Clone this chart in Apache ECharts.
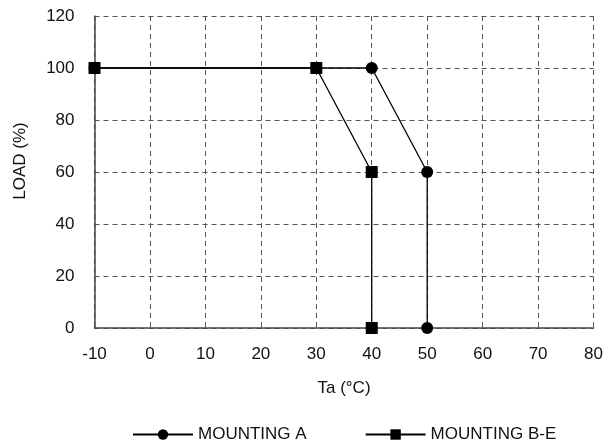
<!DOCTYPE html>
<html>
<head>
<meta charset="utf-8">
<script src="https://cdn.jsdelivr.net/npm/echarts@6/dist/echarts.min.js"></script>
<style>html,body{margin:0;padding:0;background:#fff}#c{width:606px;height:446px}</style>
</head>
<body>
<div id="c"></div>
<script>
const seriesNames = ['MOUNTING A', 'MOUNTING B-E'];
const mountingA = [[-10, 100], [40, 100], [50, 60], [50, 0]];
const mountingBE = [[-10, 100], [30, 100], [40, 60], [40, 0]];
const xTicks = [-10, 0, 10, 20, 30, 40, 50, 60, 70, 80];
const yTicks = [0, 20, 40, 60, 80, 100, 120];

const font = '"Liberation Sans", Arial, Helvetica, sans-serif';
const fs = 17;
const chart = echarts.init(document.getElementById('c'), null, {renderer: 'canvas'});
chart.setOption({
  animation: false,
  backgroundColor: '#fff',
  textStyle: {fontFamily: font},
  grid: {left: 94.5, right: 11, top: 16, bottom: 118, containLabel: false},
  legend: {
    top: 421, left: 127,
    itemWidth: 60, itemHeight: 13, itemGap: 58,
    textStyle: {fontSize: fs, color: '#111', fontFamily: font},
    data: seriesNames
  },
  xAxis: {
    type: 'value', min: xTicks[0], max: xTicks[xTicks.length - 1], interval: 10,
    name: 'Ta (°C)', nameLocation: 'middle', nameGap: 52,
    nameTextStyle: {fontSize: fs, color: '#111', fontFamily: font},
    axisLine: {show: true, onZero: false, lineStyle: {color: '#444', width: 1.5}},
    axisTick: {show: false},
    axisLabel: {fontSize: fs, color: '#111', margin: 18, fontFamily: font},
    splitLine: {show: true, lineStyle: {color: '#555', type: [5, 4], width: 1}}
  },
  yAxis: {
    type: 'value', min: yTicks[0], max: yTicks[yTicks.length - 1], interval: 20,
    name: 'LOAD (%)', nameLocation: 'middle', nameGap: 66, nameRotate: 90,
    nameTextStyle: {fontSize: fs, color: '#111', fontFamily: font, padding: [0, 0, 0, 22]},
    axisLine: {show: true, onZero: false, lineStyle: {color: '#444', width: 1.5}},
    axisTick: {show: false},
    axisLabel: {fontSize: fs, color: '#111', margin: 20, fontFamily: font},
    splitLine: {show: true, lineStyle: {color: '#555', type: [5, 4], width: 1}}
  },
  series: [
    {
      name: seriesNames[0], type: 'line', data: mountingA,
      symbol: 'circle', symbolSize: 12, showAllSymbol: true,
      lineStyle: {color: '#000', width: 1.3},
      itemStyle: {color: '#000'}, z: 2
    },
    {
      name: seriesNames[1], type: 'line', data: mountingBE,
      symbol: 'rect', symbolSize: 12, showAllSymbol: true,
      lineStyle: {color: '#000', width: 1.3},
      itemStyle: {color: '#000'}, z: 3
    }
  ]
});
</script>
</body>
</html>
